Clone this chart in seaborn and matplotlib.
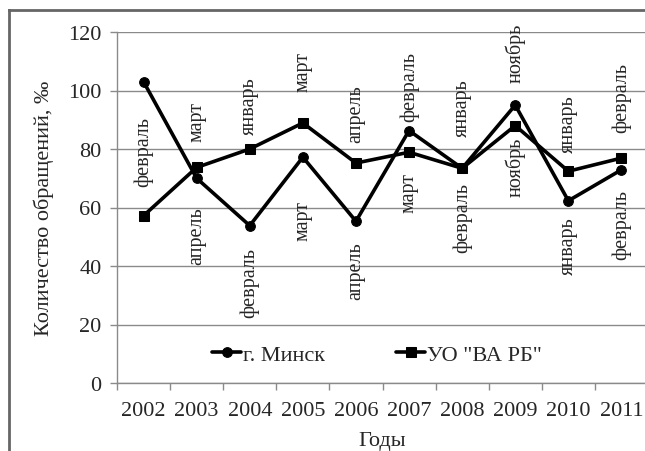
import matplotlib
matplotlib.use("Agg")
import matplotlib.pyplot as plt
from matplotlib.lines import Line2D
from matplotlib.ticker import FixedLocator, NullFormatter, FixedFormatter
import seaborn as sns
import pandas as pd
import numpy as np

years = ["2002", "2003", "2004", "2005", "2006", "2007", "2008", "2009", "2010", "2011"]
minsk = [103, 70, 53.8, 77.2, 55.3, 86.3, 73.4, 95.0, 62.3, 72.9]
varb = [57.2, 73.7, 80, 88.9, 75.2, 78.9, 73.4, 88.0, 72.4, 76.9]
minsk_labels = [None, "апрель", "февраль", "март", "апрель", "февраль", "февраль", "ноябрь", "январь", "февраль"]
varb_labels = ["февраль", "март", "январь", "март", "апрель", "март", "январь", "ноябрь", "январь", "февраль"]
series_names = ["г. Минск", 'УО "ВА РБ"']

# label offsets in pixels (positive = above point)
minsk_off = [0, -28, -21, -43, -20, 10, -14, 23, -15, -19]
varb_off = [30, 26, 15, 32, 21, -20, 32, -11, 19, 26]

sns.set_style("white")
plt.rcParams["font.family"] = ["Liberation Serif", "DejaVu Serif"]

df = pd.DataFrame({
    "x": list(range(len(years))) * 2,
    "value": minsk + varb,
    "series": [series_names[0]] * len(years) + [series_names[1]] * len(years),
})

fig = plt.figure(figsize=(6.45, 4.52), dpi=100)
ax = fig.add_axes([117 / 645, 1 - 384 / 452, 531 / 645, (384 - 33) / 452])

sns.lineplot(data=df, x="x", y="value", style="series", markers=["o", "s"],
             dashes=False, color="black", linewidth=2.6, markersize=7,
             markeredgecolor="black", ax=ax, legend=True)

ax.set_xlim(-0.5, len(years) - 0.5)
ax.set_ylim(0, 120)
ax.set_yticks(np.arange(0, 121, 20))
ax.yaxis.grid(True, color="#8a8a8a", linewidth=1)
ax.xaxis.grid(False)
ax.xaxis.set_major_locator(FixedLocator(np.arange(-0.5, len(years), 1.0)))
ax.xaxis.set_major_formatter(NullFormatter())
ax.xaxis.set_minor_locator(FixedLocator(np.arange(len(years))))
ax.xaxis.set_minor_formatter(FixedFormatter(years))
ax.tick_params(axis="x", which="major", length=5, width=1, color="#8a8a8a", direction="out", bottom=True)
ax.tick_params(axis="x", which="minor", length=0, labelsize=16, pad=13)
ax.tick_params(axis="y", length=5, width=1, color="#8a8a8a", direction="out", left=True, labelsize=16, pad=6)
for s in ["top", "right"]:
    ax.spines[s].set_visible(False)
for s in ["left", "bottom"]:
    ax.spines[s].set_color("#8a8a8a")
    ax.spines[s].set_linewidth(1)

ax.set_xlabel("Годы", fontsize=16, labelpad=8)
ax.set_ylabel("Количество обращений, ‰", fontsize=16, labelpad=10)

for i, (v, lab, off) in enumerate(zip(minsk, minsk_labels, minsk_off)):
    if lab:
        ax.annotate(lab, (i, v), xytext=(0, off), textcoords="offset pixels",
                    rotation=90, ha="center", va="bottom" if off > 0 else "top", fontsize=14.5)
for i, (v, lab, off) in enumerate(zip(varb, varb_labels, varb_off)):
    if lab:
        ax.annotate(lab, (i, v), xytext=(0, off), textcoords="offset pixels",
                    rotation=90, ha="center", va="bottom" if off > 0 else "top", fontsize=14.5)

leg = ax.legend(loc="center", bbox_to_anchor=(0.49, 0.08), ncol=2, frameon=False,
                fontsize=16, handlelength=1.3, handletextpad=0.1, columnspacing=3.2)

# outer frame (left and top edges visible in the reference)
bx = 8.5 / 645
by = 1 - 11 / 452
fig.add_artist(Line2D([bx, bx], [0, by], transform=fig.transFigure, color="#666666",
                      linewidth=2.0, solid_capstyle="projecting"))
fig.add_artist(Line2D([bx, 1.0], [by, by], transform=fig.transFigure, color="#666666",
                      linewidth=2.0, solid_capstyle="projecting"))

fig.savefig("out.png", dpi=100, facecolor="white")
